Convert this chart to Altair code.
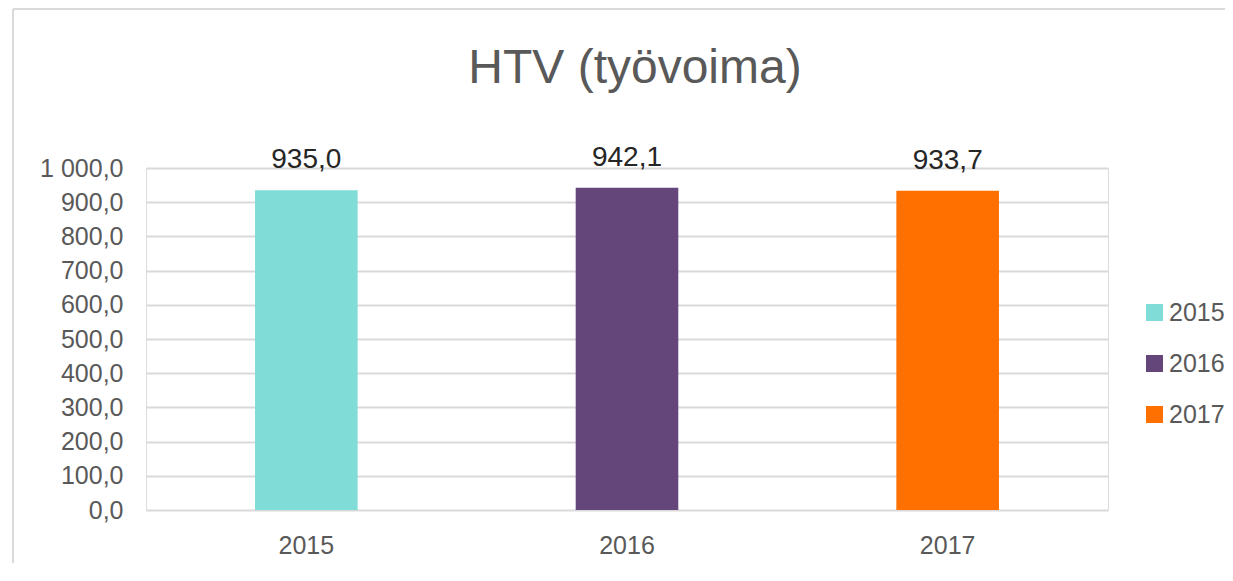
import altair as alt
import pandas as pd

title_text = "HTV (työvoima)"
years = ["2015", "2016", "2017"]
values = [935.0, 942.1, 933.7]
colors = ["#80DCD7", "#65467B", "#FF7000"]
y_ticks = [0, 100, 200, 300, 400, 500, 600, 700, 800, 900, 1000]

df = pd.DataFrame({"year": years, "value": values})

FONT = "Liberation Sans"
W, H = 962, 342

x_enc = alt.X(
    "year:N",
    sort=years,
    title=None,
    scale=alt.Scale(paddingInner=0.68, paddingOuter=0.34),
    axis=alt.Axis(
        labelAngle=0,
        labelFontSize=25,
        labelColor="#595959",
        labelFont=FONT,
        labelPadding=23,
        ticks=False,
        tickSize=0,
        domain=False,
        grid=False,
    ),
)

y_enc = alt.Y(
    "value:Q",
    title=None,
    scale=alt.Scale(domain=[0, 1000], nice=False, zero=True),
    axis=alt.Axis(
        values=y_ticks,
        tickCount=11,
        labelExpr="replace(replace(format(datum.value, ',.1f'), /,/g, ' '), '.', ',')",
        labelFontSize=25,
        labelColor="#595959",
        labelFont=FONT,
        labelPadding=23,
        labelOverlap=False,
        ticks=False,
        tickSize=0,
        domain=False,
        grid=True,
        gridColor="#D9D9D9",
        gridWidth=2,
    ),
)

bars = alt.Chart(df).mark_bar().encode(
    x=x_enc,
    y=y_enc,
    color=alt.Color(
        "year:N",
        sort=years,
        scale=alt.Scale(domain=years, range=colors),
        legend=alt.Legend(
            title=None,
            orient="none",
            legendX=996,
            legendY=132,
            symbolType="square",
            symbolSize=289,
            symbolStrokeWidth=0,
            labelFontSize=25,
            labelFont=FONT,
            labelColor="#595959",
            labelOffset=2,
            rowPadding=25,
        ),
    ),
)

labels = alt.Chart(df).mark_text(
    baseline="alphabetic", dy=-22, fontSize=28, font=FONT, color="#262626"
).encode(
    x=x_enc,
    y=y_enc,
    text=alt.Text("lbl:N"),
).transform_calculate(lbl="replace(format(datum.value, '.1f'), '.', ',')")

title_mark = alt.Chart(pd.DataFrame({"t": [title_text]})).mark_text(
    fontSize=48, font=FONT, color="#595959", align="center", baseline="alphabetic"
).encode(x=alt.value(489), y=alt.value(-85), text="t:N")

border_df = pd.DataFrame({"k": [0]})
left_border = alt.Chart(border_df).mark_rule(color="#D9D9D9", strokeWidth=2).encode(
    x=alt.value(-133), y=alt.value(-159), y2=alt.value(400)
)
top_border = alt.Chart(border_df).mark_rule(color="#D9D9D9", strokeWidth=2).encode(
    x=alt.value(-133), x2=alt.value(1100), y=alt.value(-159)
)

chart = alt.layer(left_border, top_border, bars, labels, title_mark).properties(
    width=W,
    height=H,
    autosize=alt.AutoSizeParams(type="none"),
    padding={"left": 138, "top": 160, "right": 117, "bottom": 53},
).configure_view(stroke=None).configure(background="white")

chart.save("out.html", embed_options={"renderer": "svg", "actions": False})
